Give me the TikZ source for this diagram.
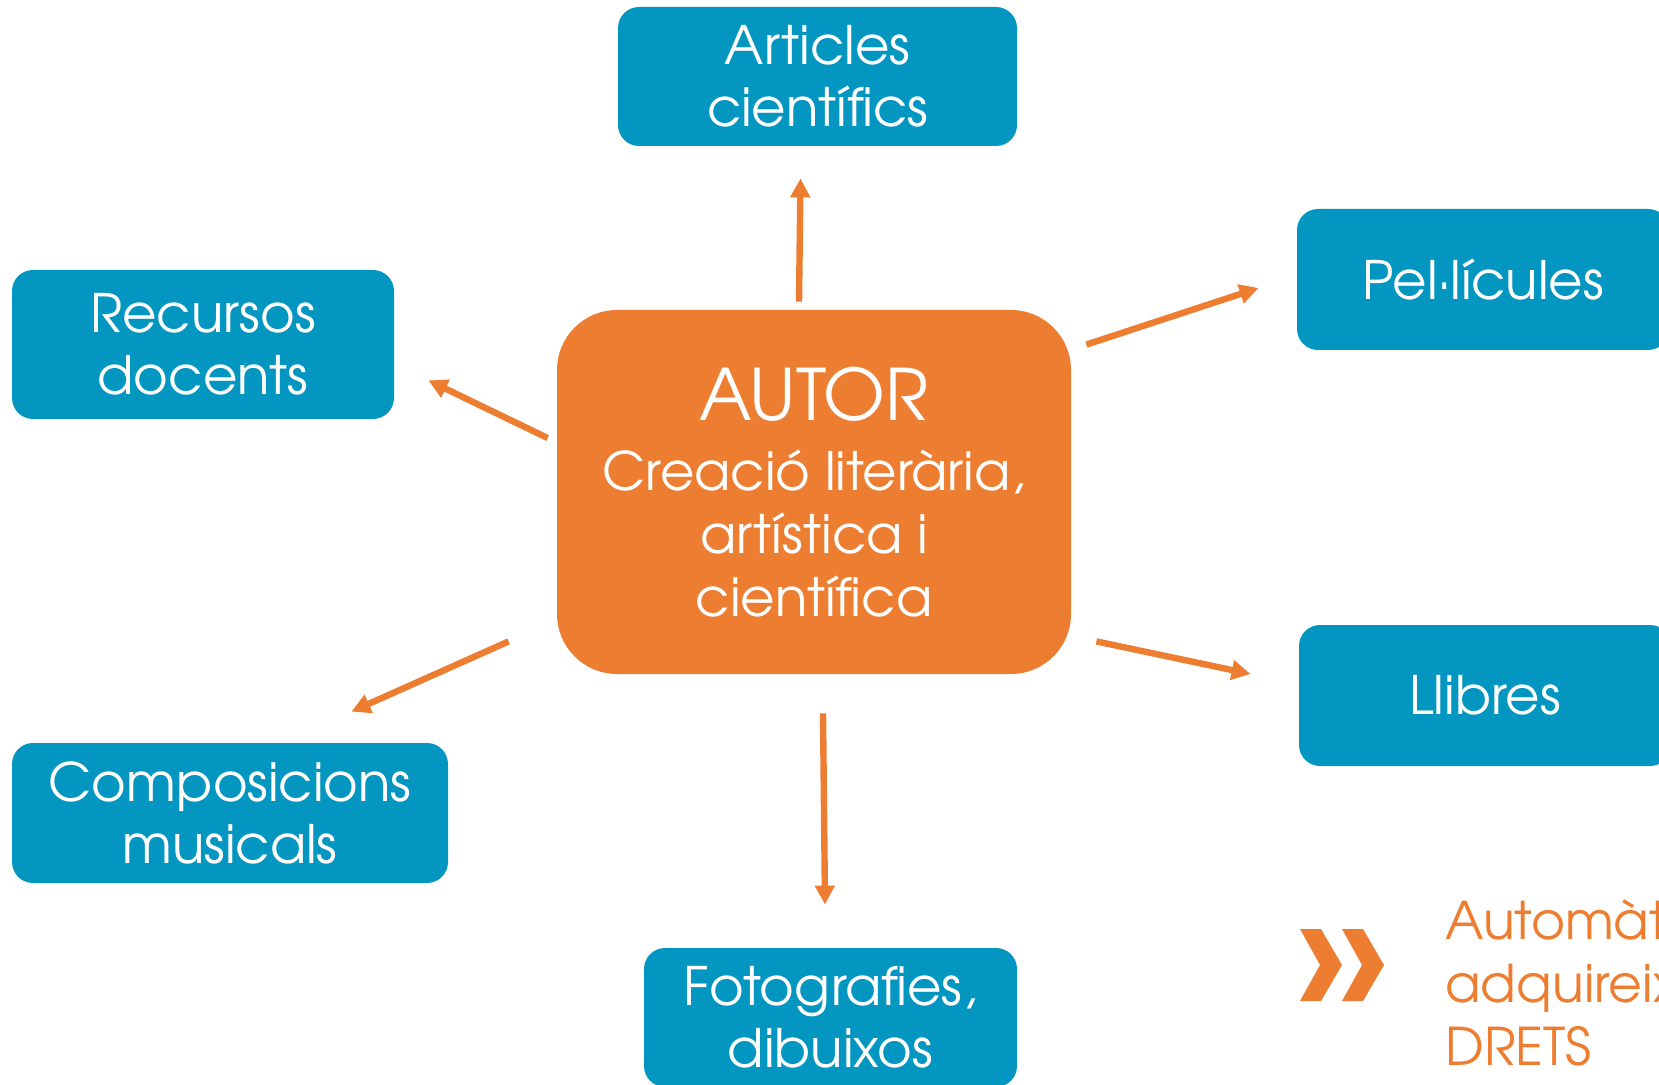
\documentclass[tikz,border=0pt]{standalone}
\usepackage{fontspec}
\setmainfont{TeX Gyre Adventor}
\usetikzlibrary{arrows.meta}
\definecolor{obrablue}{RGB}{3,150,192}
\definecolor{autororange}{RGB}{237,125,49}
\tikzset{
  obra/.style={rectangle,rounded corners=10.5pt,fill=obrablue,text=white,align=center,inner sep=0pt,font=\fontsize{26.5}{31}\selectfont},
  autorbox/.style={rectangle,rounded corners=30pt,fill=autororange,text=white,align=center,inner sep=0pt,font=\fontsize{26.5}{31.5}\selectfont,minimum width=257pt,minimum height=182pt},
  arr/.style={-{Triangle[length=9.5pt,width=9.5pt]},draw=autororange,line width=3.2pt},
}
\begin{document}
\begin{tikzpicture}[x=0.5pt,y=-0.5pt]
\useasboundingbox (0,0) rectangle (1659,1085);
\clip (0,0) rectangle (1659,1085);
% central node
\node at (814,492) [autorbox] (autor) {{\fontsize{35.5}{40}\selectfont AUTOR}\\[3.5pt]Creació literària,\\artística i\\científica};
% outputs
\node at (817.5,76.5) [obra,minimum width=199.5pt,minimum height=69.5pt] (articles) {Articles\\científics};
\node at (203,344.5) [obra,minimum width=191pt,minimum height=74.5pt] (recursos) {Recursos\\docents};
\node at (1483,279.5) [obra,minimum width=186pt,minimum height=70.5pt] (pelicules) {Pel·lícules};
\node at (1485,695.5) [obra,minimum width=186pt,minimum height=70.5pt] (llibres) {Llibres};
\node at (230,813) [obra,minimum width=218pt,minimum height=70pt] (composicions) {Composicions\\musicals};
\node at (830.5,1017.5) [obra,minimum width=186.5pt,minimum height=69.5pt] (fotografies) {Fotografies,\\dibuixos};
% arrows
\draw[arr] ([xshift=-7.5pt,yshift=4pt]autor.north) -- ([xshift=-8.5pt,yshift=-16pt]articles.south);
\draw[arr] ([xshift=-4.5pt,yshift=27pt]autor.west) -- ([xshift=17pt,yshift=19.5pt]recursos.south east);
\draw[arr] ([xshift=7.5pt,yshift=-17.5pt]autor.north east) -- ([xshift=-19pt,yshift=-4.25pt]pelicules.west);
\draw[arr] ([xshift=12.5pt,yshift=16.5pt]autor.south east) -- ([xshift=-24pt,yshift=10.75pt]llibres.west);
\draw[arr] ([xshift=-24pt,yshift=16.5pt]autor.south west) -- ([xshift=-48.5pt,yshift=15.5pt]composicions.north east);
\draw[arr] ([xshift=4.5pt,yshift=-19.5pt]autor.south) -- ([xshift=-2.75pt,yshift=21.5pt]fotografies.north);
% note
\fill[autororange] (1300,929) -- (1321,929) -- (1342,965) -- (1321,1001) -- (1300,1001) -- (1320,965) -- cycle;
\fill[autororange] (1342,929) -- (1363,929) -- (1384,965) -- (1363,1001) -- (1342,1001) -- (1362,965) -- cycle;
\node at (1445,1065) [anchor=base west,align=left,text=autororange,inner sep=0pt,font=\fontsize{26}{31.5}\selectfont] (drets) {Automàticament\\adquireix\\DRETS};
\end{tikzpicture}
\end{document}
